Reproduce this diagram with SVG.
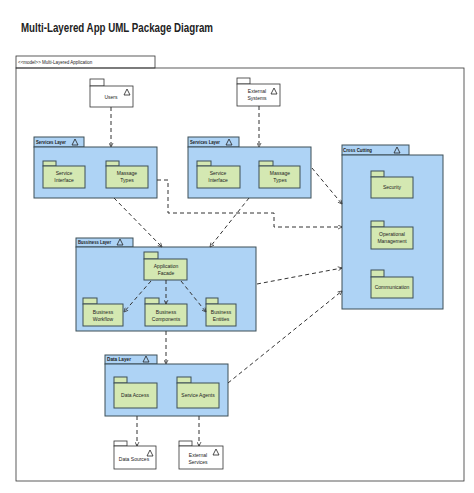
<svg xmlns="http://www.w3.org/2000/svg" width="474" height="493" viewBox="0 0 474 493">
<defs>
<style>
.t{font-family:"Liberation Sans",Arial,sans-serif;fill:#222;}
.s{font-size:5px;text-anchor:middle;}
.lb{font-size:5px;font-weight:bold;}
.layer{fill:#aed3f5;stroke:#3d4f57;stroke-width:1;}
.pk{fill:#d4e8b2;stroke:#3d4f57;stroke-width:1;}
.ext{fill:#fff;stroke:#333;stroke-width:0.8;}
.tri{fill:none;stroke:#222;stroke-width:0.8;}
.c{fill:none;stroke:#333;stroke-width:1;stroke-dasharray:4 3;marker-end:url(#ah);}
</style>
<marker id="ah" viewBox="0 0 10 10" refX="9" refY="5" markerWidth="5" markerHeight="5" orient="auto" markerUnits="userSpaceOnUse">
<path d="M1,1 L9,5 L1,9" fill="none" stroke="#333" stroke-width="1.5"/>
</marker>
</defs>
<rect width="474" height="493" fill="#fff"/>
<text class="t" x="21" y="32" font-size="12" font-weight="bold" textLength="192" lengthAdjust="spacingAndGlyphs">Multi-Layered App UML Package Diagram</text>

<g id="frame">
<rect x="16" y="56" width="139" height="12" fill="#fff" stroke="#333" stroke-width="0.8"/>
<rect x="16" y="68" width="448" height="413" fill="none" stroke="#333" stroke-width="0.8"/>
<text class="t" x="18" y="64" font-size="4.5">&lt;&lt;model&gt;&gt; Multi-Layered Application</text>
</g>

<g id="users">
<rect class="ext" x="90" y="79" width="14" height="7"/>
<rect class="ext" x="90" y="86" width="43" height="21"/>
<path class="tri" d="M124,95 L127,89 L130,95 Z"/>
<text class="t s" x="111" y="99">Users</text>
</g>

<g id="external-systems">
<rect class="ext" x="237" y="78" width="13" height="6"/>
<rect class="ext" x="237" y="84" width="43" height="22"/>
<path class="tri" d="M271,94 L274,88 L277,94 Z"/>
<text class="t s" x="257" y="93">External</text>
<text class="t s" x="257" y="100">Systems</text>
</g>

<g id="services-layer-1">
<rect class="layer" x="34" y="137" width="50" height="10"/>
<rect class="layer" x="34" y="147" width="123" height="51"/>
<text class="t lb" x="36" y="144" textLength="30" lengthAdjust="spacingAndGlyphs">Services Layer</text>
<path class="tri" d="M72,145 L75,139 L78,145 Z"/>
<rect class="pk" x="43" y="161" width="13" height="5"/>
<rect class="pk" x="43" y="166" width="42" height="22"/>
<text class="t s" x="64" y="175">Service</text>
<text class="t s" x="64" y="182">Interface</text>
<rect class="pk" x="106" y="161" width="13" height="5"/>
<rect class="pk" x="106" y="166" width="42" height="22"/>
<text class="t s" x="127" y="175">Massage</text>
<text class="t s" x="127" y="182">Types</text>
</g>

<g id="services-layer-2">
<rect class="layer" x="188" y="137" width="51" height="10"/>
<rect class="layer" x="188" y="147" width="123" height="51"/>
<text class="t lb" x="190" y="144" textLength="30" lengthAdjust="spacingAndGlyphs">Services Layer</text>
<path class="tri" d="M226,145 L229,139 L232,145 Z"/>
<rect class="pk" x="197" y="161" width="14" height="5"/>
<rect class="pk" x="197" y="166" width="43" height="22"/>
<text class="t s" x="218" y="175">Service</text>
<text class="t s" x="218" y="182">Interface</text>
<rect class="pk" x="259" y="161" width="14" height="5"/>
<rect class="pk" x="259" y="166" width="41" height="22"/>
<text class="t s" x="280" y="175">Massage</text>
<text class="t s" x="280" y="182">Types</text>
</g>

<g id="cross-cutting">
<rect class="layer" x="342" y="145" width="67" height="10"/>
<rect class="layer" x="342" y="155" width="101" height="154"/>
<text class="t lb" x="343" y="152" textLength="29" lengthAdjust="spacingAndGlyphs">Cross Cutting</text>
<path class="tri" d="M394,153 L397,147 L400,153 Z"/>
<rect class="pk" x="371" y="171" width="13" height="6"/>
<rect class="pk" x="371" y="177" width="42" height="21"/>
<text class="t s" x="392" y="189">Security</text>
<rect class="pk" x="371" y="221" width="13" height="6"/>
<rect class="pk" x="371" y="227" width="42" height="22"/>
<text class="t s" x="392" y="236">Operational</text>
<text class="t s" x="392" y="243">Management</text>
<rect class="pk" x="371" y="270" width="13" height="7"/>
<rect class="pk" x="371" y="277" width="42" height="21"/>
<text class="t s" x="392" y="289">Communication</text>
</g>

<g id="business-layer">
<rect class="layer" x="76" y="238" width="57" height="9"/>
<rect class="layer" x="76" y="247" width="180" height="84"/>
<text class="t lb" x="78" y="244" textLength="33" lengthAdjust="spacingAndGlyphs">Bussiness Layer</text>
<path class="tri" d="M117,245 L120,239 L123,245 Z"/>
<rect class="pk" x="144" y="252" width="14" height="7"/>
<rect class="pk" x="144" y="259" width="43" height="21"/>
<text class="t s" x="166" y="268">Application</text>
<text class="t s" x="166" y="275">Facade</text>
<rect class="pk" x="83" y="298" width="14" height="6"/>
<rect class="pk" x="83" y="304" width="40" height="22"/>
<text class="t s" x="103" y="314">Business</text>
<text class="t s" x="103" y="321">Workflow</text>
<rect class="pk" x="145" y="298" width="14" height="6"/>
<rect class="pk" x="145" y="304" width="42" height="22"/>
<text class="t s" x="166" y="314">Business</text>
<text class="t s" x="166" y="321">Components</text>
<rect class="pk" x="206" y="298" width="12" height="6"/>
<rect class="pk" x="206" y="304" width="30" height="22"/>
<text class="t s" x="221" y="314">Business</text>
<text class="t s" x="221" y="321">Entities</text>
</g>

<g id="data-layer">
<rect class="layer" x="105" y="355" width="52" height="9"/>
<rect class="layer" x="105" y="364" width="123" height="52"/>
<text class="t lb" x="107" y="361" textLength="24" lengthAdjust="spacingAndGlyphs">Data Layer</text>
<path class="tri" d="M143,362 L146,356 L149,362 Z"/>
<rect class="pk" x="114" y="377" width="13" height="6"/>
<rect class="pk" x="114" y="383" width="43" height="25"/>
<text class="t s" x="135" y="397">Data Access</text>
<rect class="pk" x="177" y="377" width="14" height="6"/>
<rect class="pk" x="177" y="383" width="42" height="25"/>
<text class="t s" x="198" y="397">Service Agents</text>
</g>

<g id="data-sources">
<rect class="ext" x="114" y="441" width="13" height="5"/>
<rect class="ext" x="114" y="446" width="42" height="23"/>
<path class="tri" d="M147,456 L150,450 L153,456 Z"/>
<text class="t s" x="134" y="461">Data Sources</text>
</g>

<g id="external-services">
<rect class="ext" x="179" y="441" width="13" height="5"/>
<rect class="ext" x="179" y="446" width="44" height="23"/>
<path class="tri" d="M213,455 L216,449 L219,455 Z"/>
<text class="t s" x="198" y="457">External</text>
<text class="t s" x="198" y="464">Services</text>
</g>

<g id="connectors">
<path class="c" d="M111,107 L111,147"/>
<path class="c" d="M259,106 L259,147"/>
<path class="c" d="M114,198 L162,247"/>
<path class="c" d="M249,198 L210,247"/>
<path class="c" d="M157,180 L168,180 L168,213 L274,213 L274,227 L342,227"/>
<path class="c" d="M312,168 L342,204"/>
<path class="c" d="M257,284 L342,268"/>
<path class="c" d="M228,383 L342,291"/>
<path class="c" d="M151,281 L124,312"/>
<path class="c" d="M166,280 L166,304"/>
<path class="c" d="M181,281 L206,312"/>
<path class="c" d="M166,331 L166,364"/>
<path class="c" d="M137,416 L137,446"/>
<path class="c" d="M199,416 L199,446"/>
</g>
</svg>
